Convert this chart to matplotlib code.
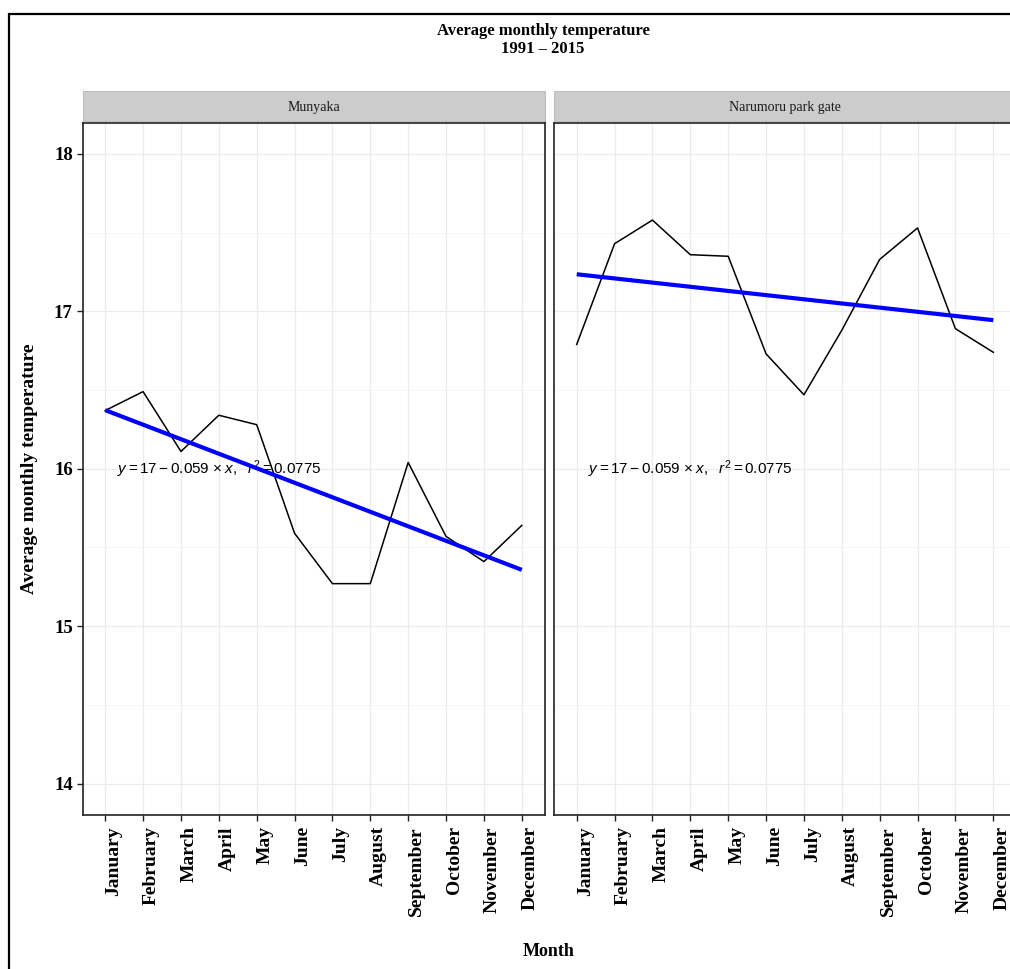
import numpy as np
import matplotlib
matplotlib.use("Agg")
import matplotlib.pyplot as plt
from matplotlib.patches import Rectangle

# ---------------- data ----------------
months = ["January", "February", "March", "April", "May", "June", "July",
          "August", "September", "October", "November", "December"]
stations = ["Munyaka", "Narumoru park gate"]
munyaka = [16.37, 16.49, 16.11, 16.34, 16.28, 15.59, 15.27, 15.27, 16.04, 15.57, 15.41, 15.64]
narumoru = [16.79, 17.43, 17.58, 17.36, 17.35, 16.73, 16.47, 16.88, 17.33, 17.53, 16.89, 16.74]
series = [munyaka, narumoru]
eq_label = r"$y=17-0.059\,\times x,\ \ r^2=0.0775$"
eq_pos = (4.0, 16.0)
yticks = [14, 15, 16, 17, 18]
title = "Average monthly temperature\n1991 \u2013 2015"
xlabel = "Month"
ylabel = "Average monthly temperature"

# ---------------- style ----------------
plt.rcParams["mathtext.fontset"] = "custom"
plt.rcParams["mathtext.rm"] = "Liberation Sans"
plt.rcParams["mathtext.it"] = "Liberation Sans:italic"
serif = "Liberation Serif"

W, H = 1010, 969
fig = plt.figure(figsize=(W / 100, H / 100), dpi=100)
fig.patch.set_facecolor("white")


def box(x0, y0, x1, y1):
    return [x0 / W, 1 - y1 / H, (x1 - x0) / W, (y1 - y0) / H]


# outer border (extends beyond the visible area, as in the reference)
fig.patches.append(Rectangle((8.5 / W, -0.1), 1.2, 1 - 13.5 / H + 0.1,
                             transform=fig.transFigure, fill=False,
                             edgecolor="black", linewidth=1.6, zorder=-2))

panels = [(82.5, 544.5), (554, 1016)]
top, bottom = 122.5, 815
x = np.arange(1, len(months) + 1)

for i, ((x0, x1), vals, name) in enumerate(zip(panels, series, stations)):
    ax = fig.add_axes(box(x0, top, x1, bottom))
    ax.set_yticks(yticks)
    ax.set_yticks([14.5, 15.5, 16.5, 17.5], minor=True)
    ax.set_xticks(x)
    ax.set_xlim(0.4, 12.6)
    ax.set_ylim(13.8, 18.2)
    ax.grid(True, which="major", color="#ebebeb", linewidth=0.9, zorder=0)
    ax.grid(True, which="minor", axis="y", color="#f4f4f4", linewidth=0.6, zorder=0)
    ax.set_axisbelow(True)
    for s in ax.spines.values():
        s.set_color("#222222")
        s.set_linewidth(1.2)

    vals = np.asarray(vals)
    ax.text(eq_pos[0], eq_pos[1], eq_label, ha="center", va="center",
            fontsize=11, color="black", zorder=1)
    ax.plot(x, vals, color="black", linewidth=1.1, zorder=3)
    slope, intercept = np.polyfit(x, vals, 1)
    ax.plot(x, intercept + slope * x, color="#0000ff", linewidth=3.0, zorder=4,
            solid_capstyle="butt")

    ax.tick_params(axis="x", which="major", length=4.5, width=1.0, color="#222222",
                   pad=3.6)
    ax.tick_params(axis="y", which="minor", length=0)
    ax.set_xticklabels(months)
    for t in ax.get_xticklabels():
        t.set_rotation(90)
        t.set_rotation_mode("anchor")
        t.set_ha("right")
        t.set_va("top")
        t.set_fontfamily(serif)
        t.set_fontweight("bold")
        t.set_fontsize(14)
    if i == 0:
        ax.tick_params(axis="y", which="major", length=4.5, width=1.0,
                       color="#222222", pad=2.5, labelsize=13.5)
        for t in ax.get_yticklabels():
            t.set_fontfamily(serif)
            t.set_fontweight("bold")
    else:
        ax.tick_params(axis="y", which="both", length=0, labelleft=False)

    # facet strip
    fig.patches.append(Rectangle((x0 / W, 1 - (top - 1.5) / H), (x1 - x0) / W,
                                 (top - 1.5 - 91) / H,
                                 transform=fig.transFigure, facecolor="#cccccc",
                                 edgecolor="#bdbdbd", linewidth=0.8, zorder=-1))
    fig.text(((x0 + x1) / 2) / W, 1 - 107 / H, name, ha="center", va="center",
             fontsize=10, family=serif, color="#1a1a1a")

fig.text(543 / W, 1 - 40 / H, title, ha="center", va="center", fontsize=12,
         family=serif, fontweight="bold", linespacing=1.15)
fig.text(549 / W, 1 - 952 / H, xlabel, ha="center", va="center", fontsize=13,
         family=serif, fontweight="bold")
fig.text(30 / W, 1 - 469 / H, ylabel, ha="center", va="center", fontsize=14,
         family=serif, fontweight="bold", rotation=90)

fig.savefig("out.png", dpi=100)
